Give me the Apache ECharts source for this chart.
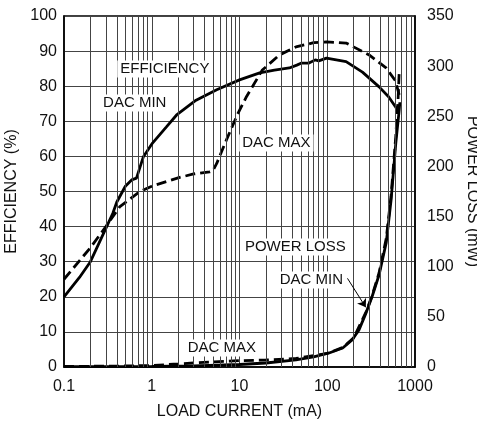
<!DOCTYPE html>
<html>
<head>
<meta charset="utf-8">
<script src="https://cdn.jsdelivr.net/npm/echarts@6/dist/echarts.min.js"></script>
<style>
html,body{margin:0;padding:0;background:#fff;}
#c{width:477px;height:423px;}
</style>
</head>
<body>
<div id="c"></div>
<script>
// ---- data (x = load current in mA) ----
const effDacMin = [[0.1,20],[0.15,25.5],[0.2,30],[0.3,39.5],[0.36,43.8],[0.4,47],[0.5,51.5],[0.59,53.3],[0.67,53.8],[0.8,59.8],[1.02,63.8],[1.47,68.4],[1.92,71.8],[3.2,76],[5.5,79],[10,81.8],[17,83.8],[25,84.6],[37,85.2],[45,86],[51,86.6],[62,86.6],[73,87.5],[80,87.2],[98,88],[164,87],[252,84],[390,79.8],[500,77],[604,74],[655,72.5]];
const effDacMax = [[0.1,25],[0.2,34],[0.3,40],[0.43,45.6],[0.73,50],[1,51.5],[2.08,54],[3,55],[4.56,55.6],[5,56],[5.5,58],[7.1,64.7],[9.5,72],[12,77],[18.2,84.6],[28.5,88.9],[44,91.2],[70,92.4],[98,92.6],[164,92.3],[300,88.9],[468,85.2],[600,81.5],[660,77.5]];
const lossDacMin = [[0.1,0.3],[1,0.6],[3,1],[10,2.5],[20,4],[44,7],[70,10],[105,14],[150,19],[192,27],[230,37],[277,54],[324,70],[390,92],[470,124],[533,166],[604,223],[660,256],[672,264]];
const lossDacMax = [[0.1,0.5],[0.5,1],[1,1.5],[2,3],[3,4],[5,5],[10,6.3],[20,7],[44,8.5],[100,13.5],[150,19.5],[200,29],[277,55],[324,71],[390,94],[470,128],[533,170],[604,230],[640,265],[660,293]];
const xTicks = ['0.1','1','10','100','1000'];
const minorX = [0.2,0.3,0.4,0.5,0.6,0.7,0.8,0.9,2,3,4,5,6,7,8,9,20,30,40,50,60,70,80,90,200,300,400,500,600,700,800,900];
const annotations = [
  {name:'EFFICIENCY', coord:[1.41,84.9]},
  {name:'DAC MIN', coord:[0.64,75.2]},
  {name:'DAC MAX', coord:[26.3,63.8]},
  {name:'POWER LOSS', coord:[43.3,34.2]},
  {name:'DAC MIN', coord:[65.8,24.8]},
  {name:'DAC MAX', coord:[6.3,5.4]}
];
const arrowLine = [[170,88.4],[275,59.5]];

const FONT = "'Liberation Sans', Arial, sans-serif";
const GRIDC = '#444';

const chart = echarts.init(document.getElementById('c'), null, {renderer:'canvas'});
chart.setOption({
  animation:false,
  backgroundColor:'#fff',
  textStyle:{fontFamily:FONT},
  grid:{left:64,right:62,top:16,bottom:56,show:true,borderColor:'#000',borderWidth:1.5,outerBoundsMode:'none',containLabel:false},
  xAxis:{
    type:'log', logBase:10, min:0.1, max:1000,
    name:'LOAD CURRENT (mA)', nameLocation:'middle', nameGap:37,
    nameTextStyle:{fontSize:16,color:'#111',fontFamily:FONT},
    axisLine:{show:true,lineStyle:{color:'#000',width:1.5}},
    axisTick:{show:false},
    axisLabel:{fontSize:16,color:'#111',margin:12,fontFamily:FONT,
      formatter:function(v){const s=xTicks.find(t=>Math.abs(parseFloat(t)-v)<1e-9*Math.max(1,v));return s||'';}},
    splitLine:{show:true,lineStyle:{color:GRIDC,width:1}},
    minorSplitLine:{show:false}
  },
  yAxis:[{
    type:'value', min:0, max:100, interval:10,
    name:'EFFICIENCY (%)', nameLocation:'middle', nameGap:36, nameRotate:90,
    nameTextStyle:{fontSize:16,color:'#111',fontFamily:FONT},
    axisLine:{show:true,lineStyle:{color:'#000',width:1.5}},
    axisTick:{show:false},
    axisLabel:{fontSize:16,color:'#111',margin:7,fontFamily:FONT},
    splitLine:{show:true,lineStyle:{color:GRIDC,width:1}}
  },{
    type:'value', min:0, max:350, interval:50, position:'right',
    name:'POWER LOSS (mW)', nameLocation:'middle', nameGap:43, nameRotate:-90,
    nameTextStyle:{fontSize:16,color:'#111',fontFamily:FONT},
    axisLine:{show:true,lineStyle:{color:'#000',width:1.5}},
    axisTick:{show:false},
    axisLabel:{fontSize:16,color:'#111',margin:12,fontFamily:FONT},
    splitLine:{show:false}
  }],
  series:[
    {
      name:'minor', type:'line', data:[], z:1, silent:true,
      markLine:{silent:true, symbol:['none','none'], label:{show:false},
        lineStyle:{color:GRIDC,width:1,type:'solid'},
        data:minorX.map(v=>({xAxis:v}))}
    },
    {name:'Efficiency DAC MIN', type:'line', data:effDacMin, yAxisIndex:0, showSymbol:false, z:3,
      lineStyle:{color:'#000',width:2.8,type:'solid'}},
    {name:'Efficiency DAC MAX', type:'line', data:effDacMax, yAxisIndex:0, showSymbol:false, z:3,
      lineStyle:{color:'#000',width:2.8,type:[10,5]}},
    {name:'Power Loss DAC MIN', type:'line', data:lossDacMin, yAxisIndex:1, showSymbol:false, z:3,
      lineStyle:{color:'#000',width:2.8,type:'solid'},
      markLine:{silent:true, symbol:['none','arrow'], symbolSize:8, label:{show:false},
        lineStyle:{color:'#000',width:1,type:'solid'},
        data:[[{coord:arrowLine[0]},{coord:arrowLine[1]}]]}},
    {name:'Power Loss DAC MAX', type:'line', data:lossDacMax, yAxisIndex:1, showSymbol:false, z:3,
      lineStyle:{color:'#000',width:2.8,type:[10,5]}},
    {
      name:'labels', type:'line', data:[[0.1,null]], yAxisIndex:0, z:5, silent:true, showSymbol:false,
      markPoint:{silent:true, symbol:'circle', symbolSize:0, itemStyle:{color:'transparent'},
        label:{show:true, position:'inside', formatter:'{b}', color:'#111', fontSize:15, fontFamily:FONT,
          backgroundColor:'#fff', padding:[1,3]},
        data:annotations.map(a=>({name:a.name, coord:a.coord}))}
    }
  ]
});
</script>
</body>
</html>
